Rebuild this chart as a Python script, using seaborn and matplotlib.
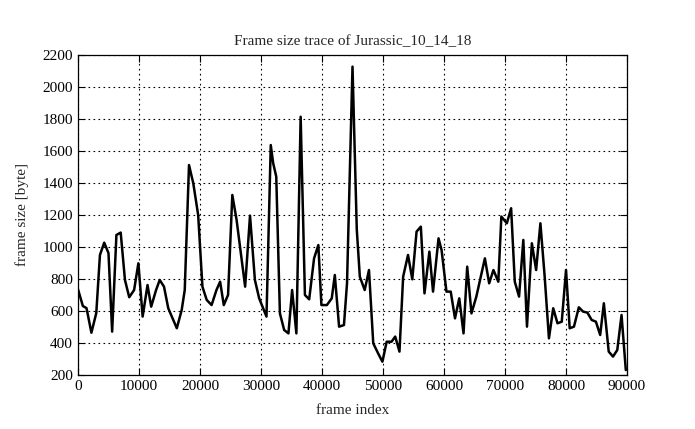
import numpy as np
import pandas as pd
import seaborn as sns
import matplotlib.pyplot as plt

frame_index = [
    0, 800, 1400, 2200, 3000, 3600, 4300, 5000, 5600, 6300, 7000, 7700,
    8400, 9200, 9900, 10600, 11400, 12000, 12800, 13400, 14100, 14800,
    16200, 17000, 17500, 18200, 18900, 19700, 20400, 21100, 21900, 22700,
    23300, 23900, 24600, 25300, 26000, 26700, 27400, 28200, 29000, 29700,
    30900, 31600, 32000, 32500, 33100, 33800, 34500, 35100, 35800, 36500,
    37200, 37900, 38700, 39400, 39900, 40800, 41600, 42100, 42800, 43600,
    44100, 45000, 45700, 46200, 47000, 47700, 48400, 49200, 49900, 50600,
    51400, 52000, 52700, 53300, 54100, 54800, 55500, 56200, 56800, 57600,
    58200, 59100, 59600, 60400, 61100, 61800, 62500, 63200, 63800, 64500,
    65300, 66700, 67400, 68100, 68900, 69400, 70300, 71000, 71600, 72300,
    73000, 73600, 74400, 75100, 75800, 76500, 77200, 77900, 78600, 79300,
    80000, 80600, 81300, 82100, 82800, 83500, 84200, 84900, 85600, 86200,
    87000, 87700, 88400, 89100, 89800,
]
frame_size = [
    736, 631, 618, 464, 587, 950, 1027, 962, 471, 1075, 1090, 794,
    686, 731, 898, 565, 762, 627, 731, 794, 752, 617,
    492, 606, 731, 1512, 1398, 1200, 752, 669, 637, 731,
    783, 637, 700, 1325, 1169, 960, 752, 1196, 794, 679,
    565, 1637, 1523, 1440, 585, 481, 460, 731, 460, 1814,
    700, 673, 929, 1012, 637, 637, 679, 825, 502, 512,
    773, 2127, 1110, 814, 731, 856, 398, 335, 283, 408,
    408, 440, 346, 814, 950, 798, 1096, 1127, 710, 971,
    721, 1054, 981, 721, 721, 554, 679, 460, 877, 585,
    690, 929, 773, 856, 783, 1190, 1148, 1242, 783, 690,
    1044, 502, 1023, 856, 1148, 815, 429, 617, 523, 533,
    856, 492, 502, 623, 596, 590, 544, 533, 450, 648,
    346, 315, 356, 575, 231,
]

df = pd.DataFrame({"frame": frame_index, "size": frame_size})

sns.set_style("ticks")
plt.rcParams["font.family"] = ["Liberation Serif", "DejaVu Serif"]

fig = plt.figure(figsize=(6.95, 4.29), dpi=100)
ax = fig.add_axes([0.1122, 0.1259, 0.79, 0.746])

sns.lineplot(data=df, x="frame", y="size", color="black", linewidth=1.8, ax=ax)

ax.set_xlim(0, 90000)
ax.set_ylim(200, 2200)
ax.set_xticks(np.arange(0, 90001, 10000))
ax.set_yticks(np.arange(200, 2201, 200))
ax.grid(True, color="black", linestyle=(0, (1.5, 3)), linewidth=0.8)
ax.tick_params(direction="in", top=True, right=True, length=5,
               labelsize=11, colors="black", width=0.8)
for s in ax.spines.values():
    s.set_linewidth(0.9)
    s.set_color("black")

ax.set_xlabel("frame index", fontsize=11, labelpad=8)
ax.set_ylabel("frame size [byte]", fontsize=11, labelpad=10)
ax.set_title("Frame size trace of Jurassic_10_14_18", fontsize=11, pad=7)

fig.savefig("out.png", dpi=100)
